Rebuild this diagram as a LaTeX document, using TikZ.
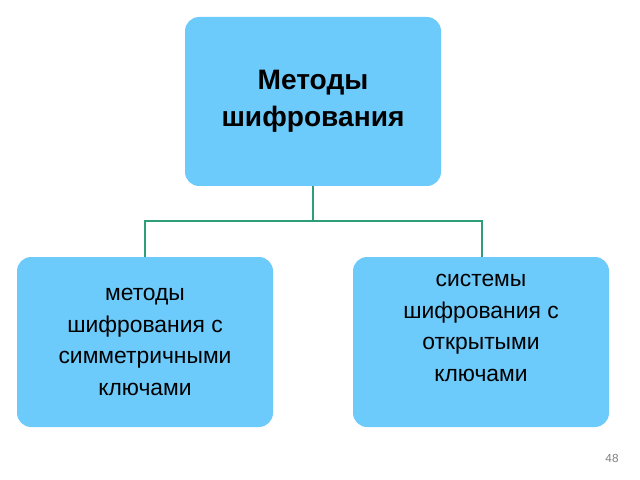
\documentclass[tikz,border=0pt]{standalone}
\usepackage{fontspec}
\setmainfont{Liberation Sans}
\definecolor{boxblue}{HTML}{6DCBFC}
\definecolor{linkgreen}{HTML}{2E9E78}
\begin{document}
\begin{tikzpicture}[x=0.03cm,y=-0.03cm,
    blockbox/.style={fill=boxblue,rounded corners=12pt,draw=none},
    link/.style={draw=linkgreen,line width=1.2pt}]
        %FRAME
        \useasboundingbox[fill=white] (0,0) rectangle (640,480);
        %BOXES
        \path[blockbox] (185,17) rectangle (441,186);
        \path[blockbox] (17,257) rectangle (273,427);
        \path[blockbox] (353,257) rectangle (609,427);
        %TEXT
        \node (top) at (313,101.5) [align=center,font=\fontsize{24}{32}\selectfont\bfseries] {Методы\\шифрования};
        \node (left) at (145,342) [align=center,font=\fontsize{19.5}{27}\selectfont] {методы\\шифрования с\\симметричными\\ключами};
        \node (right) at (481,328) [align=center,font=\fontsize{19.5}{27}\selectfont] {системы\\шифрования с\\открытыми\\ключами};
        \node (page) at (612,458) [text=gray,font=\fontsize{10}{12}\selectfont] {48};
        %LINKS
        \coordinate (ta) at (313,186);
        \coordinate (la) at (145,257);
        \coordinate (ra) at (482,257);
        \draw[link] (ta) -- (313,221) -| (la);
        \draw[link] (313,221) -| (ra);
\end{tikzpicture}
\end{document}
